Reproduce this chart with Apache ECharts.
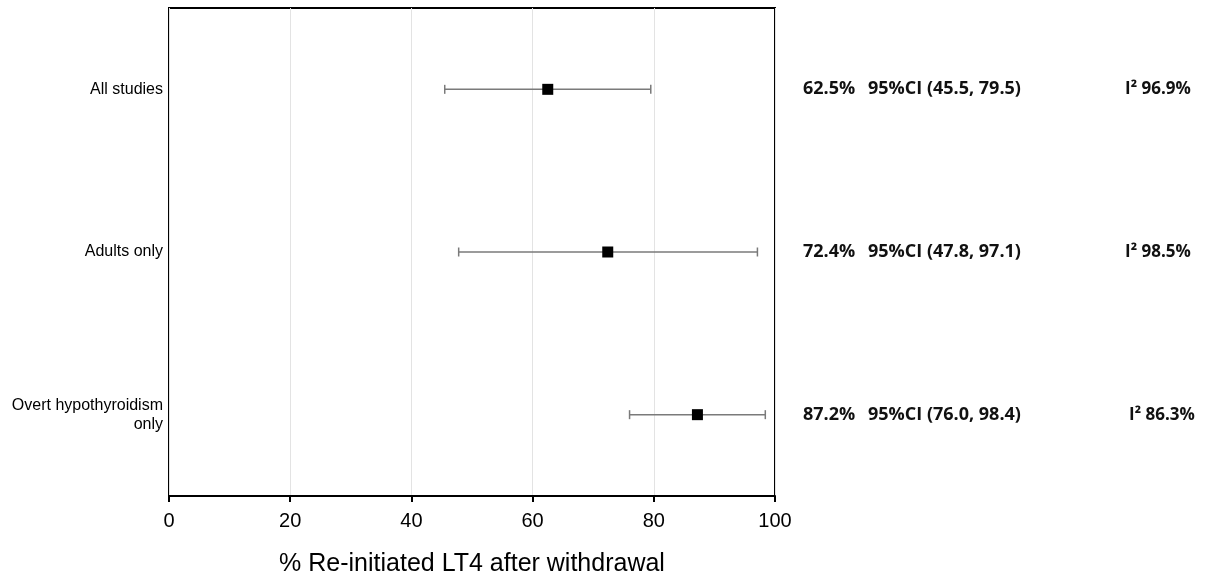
<!DOCTYPE html>
<html>
<head>
<meta charset="utf-8">
<script src="https://cdn.jsdelivr.net/npm/echarts@6/dist/echarts.min.js"></script>
<style>
html,body{margin:0;padding:0;background:#fff;}
#chart{width:1208px;height:579px;}
</style>
</head>
<body>
<div id="chart"></div>
<script>
var categories = ['All studies', 'Adults only', 'Overt hypothyroidism\nonly'];
var estimates = [62.5, 72.4, 87.2];
var lower = [45.5, 47.8, 76.0];
var upper = [79.5, 97.1, 98.4];
var i2 = [96.9, 98.5, 86.3];
var xTicks = [0, 20, 40, 60, 80, 100];
var xTitle = '% Re-initiated LT4 after withdrawal';

var chart = echarts.init(document.getElementById('chart'), null, {renderer: 'canvas'});

var data = categories.map(function (c, i) {
  return [i, estimates[i], lower[i], upper[i], i2[i]];
});

var boldFont = '"Open Sans", "Noto Sans", sans-serif';

chart.setOption({
  animation: false,
  backgroundColor: '#fff',
  grid: {
    left: 169, right: 433, top: 8, bottom: 83,
    outerBoundsMode: 'none', containLabel: false,
    show: true, borderColor: '#000', borderWidth: 2, backgroundColor: 'transparent'
  },
  xAxis: {
    type: 'value', min: 0, max: 100, interval: 20,
    name: xTitle, nameLocation: 'middle', nameGap: 56,
    nameTextStyle: {fontFamily: '"Liberation Sans", Arial, sans-serif', fontSize: 25, color: '#000'},
    axisLine: {show: true, lineStyle: {color: '#000', width: 2}},
    axisTick: {show: true, inside: false, length: 6, lineStyle: {color: '#000', width: 2}},
    axisLabel: {fontFamily: '"Liberation Sans", Arial, sans-serif', fontSize: 20, color: '#000', margin: 15,
      formatter: function (v) { return xTicks.indexOf(v) >= 0 ? String(v) : ''; }},
    splitLine: {show: true, lineStyle: {color: '#e3e3e3', width: 1}}
  },
  yAxis: {
    type: 'category', data: categories, inverse: true,
    axisLine: {show: false}, axisTick: {show: false},
    axisLabel: {fontFamily: '"Liberation Sans", Arial, sans-serif', fontSize: 16, color: '#000', margin: 6,
      align: 'right', lineHeight: 19},
    splitLine: {show: false}
  },
  series: [{
    type: 'custom',
    data: data,
    encode: {x: [1, 2, 3], y: 0},
    clip: false,
    renderItem: function (params, api) {
      var cat = api.value(0);
      var est = api.value(1), lo = api.value(2), hi = api.value(3), ii = api.value(4);
      var pEst = api.coord([est, cat]);
      var pLo = api.coord([lo, cat]);
      var pHi = api.coord([hi, cat]);
      var y = pEst[1];
      var cap = 4.5, sq = 11;
      var lineStyle = {stroke: '#7a7a7a', lineWidth: 1.5};
      var txt = function (t, x, align, size) {
        return {type: 'text', style: {text: t, x: x, y: y, textAlign: align || 'left', textVerticalAlign: 'middle',
          font: 'bold ' + (size || 18) + 'px ' + boldFont, fill: '#111'}};
      };
      return {
        type: 'group',
        children: [
          {type: 'line', shape: {x1: pLo[0], y1: y, x2: pHi[0], y2: y}, style: lineStyle},
          {type: 'line', shape: {x1: pLo[0], y1: y - cap, x2: pLo[0], y2: y + cap}, style: lineStyle},
          {type: 'line', shape: {x1: pHi[0], y1: y - cap, x2: pHi[0], y2: y + cap}, style: lineStyle},
          {type: 'rect', shape: {x: pEst[0] - sq / 2, y: y - sq / 2, width: sq, height: sq}, style: {fill: '#000'}},
          txt(est.toFixed(1) + '%', 803),
          txt('95%CI (' + lo.toFixed(1) + ', ' + hi.toFixed(1) + ')', 868),
          txt('I\u00B2 ' + ii.toFixed(1) + '%', 1158 + (params.dataIndex === 2 ? 4 : 0), 'center', 17)
        ]
      };
    }
  }]
});
</script>
</body>
</html>
